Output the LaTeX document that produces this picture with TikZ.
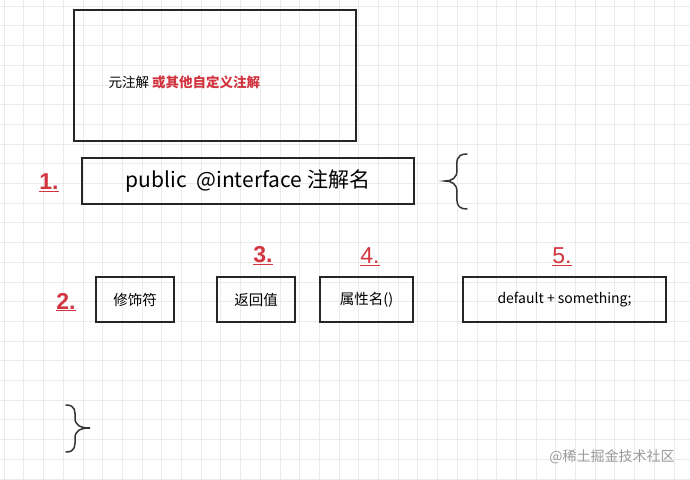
\documentclass[tikz,border=0pt]{standalone}
\usepackage{fontspec}
\setmainfont{Liberation Sans}
\newfontfamily\cjk{Noto Sans CJK SC}
\definecolor{rd}{HTML}{D23440}
\begin{document}
\begin{tikzpicture}[x=1pt,y=-1pt,
  box/.style={draw=black!85,line width=1.6pt,inner sep=0pt},
  num/.style={text=rd,font=\bfseries\fontsize{23}{23}\selectfont},
  lbl/.style={font=\cjk\fontsize{14.5}{14.5}\selectfont}]
\useasboundingbox (0,0) rectangle (690,479);
\fill[white] (0,0) rectangle (690,479);
\foreach \i in {0,...,35} {\draw[black!8,line width=0.6pt] (\i*19.7+4,0) -- (\i*19.7+4,479);}
\foreach \i in {0,...,24} {\draw[black!8,line width=0.6pt] (0,\i*19.7+6) -- (690,\i*19.7+6);}
\node[box,minimum width=282pt,minimum height=131pt] (top) at (215,75.5) {};
\node[lbl,anchor=west,font=\cjk\fontsize{13.5}{13.5}\selectfont] (t1) at (105,82) {元注解\ \textcolor{rd}{\bfseries 或其他自定义注解}};
\node[box,minimum width=332pt,minimum height=46pt,font=\cjk\fontsize{21}{21}\selectfont] (b1) at (248,181) {public\ \ @interface 注解名};
\node[num] (n1) at (49,183) {\underline{1.}};
\node[box,minimum width=78pt,minimum height=45pt,lbl] (b2) at (135,299.5) {修饰符};
\node[box,minimum width=78pt,minimum height=45pt,lbl] (b3) at (256,299.5) {返回值};
\node[box,minimum width=93pt,minimum height=45pt,lbl] (b4) at (366.5,299.5) {属性名()};
\node[box,minimum width=203pt,minimum height=45pt,lbl,font=\cjk\fontsize{14}{14}\selectfont] (b5) at (564.5,299.5) {default + something;};
\node[num] (n2) at (66,302) {\underline{2.}};
\node[num] (n3) at (263,256) {\underline{3.}};
\node[num,font=\fontsize{23}{23}\selectfont] (n4) at (370,257) {\underline{4.}};
\node[num,font=\fontsize{23}{23}\selectfont] (n5) at (562,257) {\underline{5.}};
\coordinate (br1) at (445,181);
\draw[black!80,line width=1.5pt,line cap=round] (467,154) .. controls (455,154) and (457,162) .. (457,170) .. controls (457,178) and (452,181) .. (br1) .. controls (452,181) and (457,184) .. (457,192) .. controls (457,200) and (455,209) .. (467,209);
\coordinate (br2) at (90,428);
\draw[black!80,line width=1.5pt,line cap=round] (66,405) .. controls (76,405) and (75,412) .. (75,418) .. controls (75,425) and (80,428) .. (br2) .. controls (80,428) and (75,431) .. (75,438) .. controls (75,445) and (76,452) .. (66,452);
\node[font=\cjk\fontsize{14}{14}\selectfont,text=black!40] (wm) at (612,457) {@稀土掘金技术社区};
\end{tikzpicture}
\end{document}
